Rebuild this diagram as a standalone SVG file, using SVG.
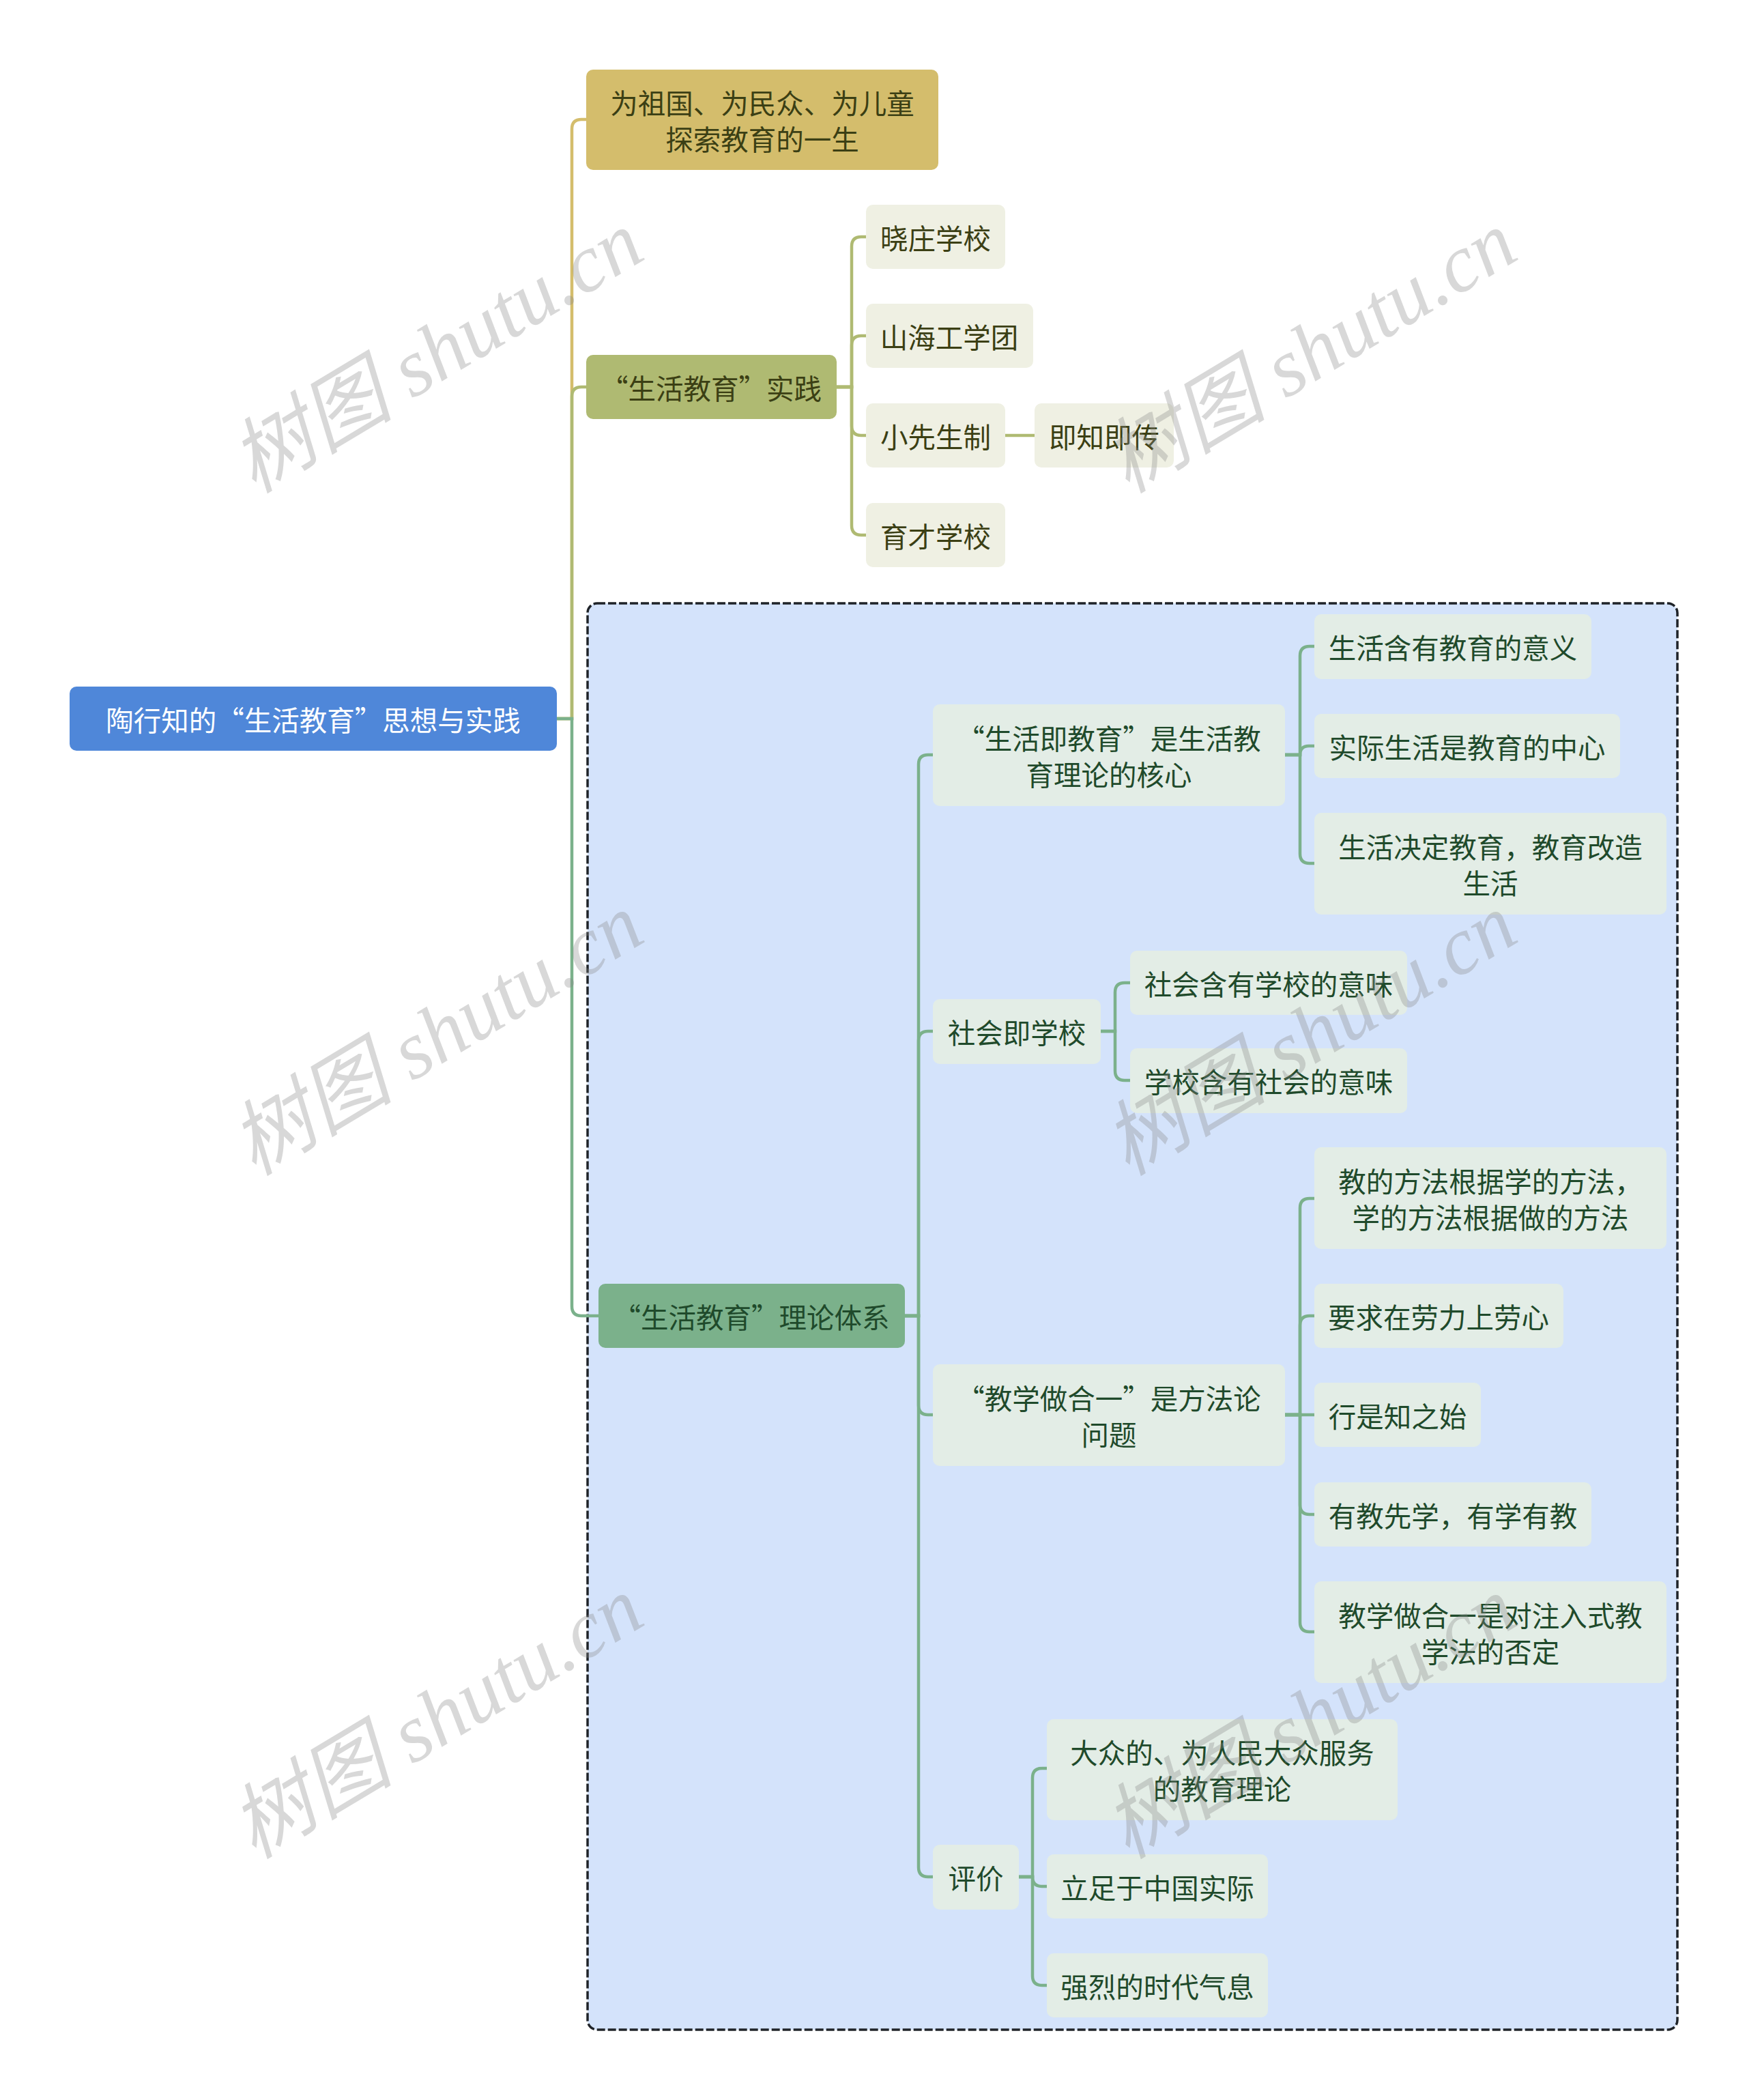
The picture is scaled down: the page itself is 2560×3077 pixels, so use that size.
<svg xmlns="http://www.w3.org/2000/svg" width="2560" height="3077" viewBox="0 0 2560 3077">
<style>
text{font-family:"Noto Sans CJK SC","Noto Sans",sans-serif;font-size:40.5px;text-anchor:middle;dominant-baseline:central}
.root rect{fill:#4f87d9}
.root text{fill:#ffffff}
.gold rect{fill:#d4bd6c}
.olive rect{fill:#afba72}
.ol2 rect{fill:#eff0e3}
.t1 text{fill:#3b3f14}
.green rect{fill:#7bb18b}
.gr2 rect{fill:#e3ede6}
.t2 text{fill:#1f4a2b}
.c{fill:none;stroke-width:4.5}
.cg{stroke:#d4bd6c}
.co{stroke:#afba72}
.cn{stroke:#7bb18b}
.wm{font-family:"Liberation Serif","Noto Sans CJK SC",serif;font-style:italic;font-size:120px;fill:#8a8a8a;fill-opacity:0.33;text-anchor:middle;dominant-baseline:central}
</style>
<rect x="0" y="0" width="2560" height="3077" fill="#ffffff"/>
<g id="container">
<rect x="861" y="884" width="1597" height="2090" rx="14" fill="#d4e3fb" stroke="#1f2328" stroke-width="3.5" stroke-dasharray="12 4"/>
</g>
<g id="connectors">
<path class="c cg" d="M816 1053 H838 V189 Q838 175 852 175 H859"/>
<path class="c co" d="M816 1053 H838 V581 Q838 567 852 567 H859"/>
<path class="c cn" d="M816 1053 H838 V1914 Q838 1928 852 1928 H877"/>
<path class="c co" d="M1226 567 H1248 V361 Q1248 347 1262 347 H1269"/>
<path class="c co" d="M1226 567 H1248 V506 Q1248 492 1262 492 H1269"/>
<path class="c co" d="M1226 567 H1248 V624 Q1248 638 1262 638 H1269"/>
<path class="c co" d="M1226 567 H1248 V770 Q1248 784 1262 784 H1269"/>
<path class="c co" d="M1473 638 H1516"/>
<path class="c cn" d="M1326 1928 H1346 V1120 Q1346 1106 1360 1106 H1367"/>
<path class="c cn" d="M1326 1928 H1346 V1525 Q1346 1511 1360 1511 H1367"/>
<path class="c cn" d="M1326 1928 H1346 V2059 Q1346 2073 1360 2073 H1367"/>
<path class="c cn" d="M1326 1928 H1346 V2736 Q1346 2750 1360 2750 H1367"/>
<path class="c cn" d="M1883 1106 H1905 V961 Q1905 947 1919 947 H1926"/>
<path class="c cn" d="M1883 1106 H1905 V1106 Q1905 1093 1918 1093 H1926"/>
<path class="c cn" d="M1883 1106 H1905 V1251 Q1905 1265 1919 1265 H1926"/>
<path class="c cn" d="M1613 1511 H1634 V1454 Q1634 1440 1648 1440 H1656"/>
<path class="c cn" d="M1613 1511 H1634 V1569 Q1634 1583 1648 1583 H1656"/>
<path class="c cn" d="M1883 2073 H1905 V1770 Q1905 1756 1919 1756 H1926"/>
<path class="c cn" d="M1883 2073 H1905 V1942 Q1905 1928 1919 1928 H1926"/>
<path class="c cn" d="M1883 2073 H1926"/>
<path class="c cn" d="M1883 2073 H1905 V2205 Q1905 2219 1919 2219 H1926"/>
<path class="c cn" d="M1883 2073 H1905 V2377 Q1905 2391 1919 2391 H1926"/>
<path class="c cn" d="M1493 2750 H1513 V2605 Q1513 2591 1527 2591 H1534"/>
<path class="c cn" d="M1493 2750 H1513 V2750 Q1513 2764 1527 2764 H1534"/>
<path class="c cn" d="M1493 2750 H1513 V2895 Q1513 2909 1527 2909 H1534"/>
</g>
<g id="n-root" class="root"><rect x="102" y="1006" width="714" height="94" rx="10"/><text x="459" y="1053">陶行知的“生活教育”思想与实践</text></g>
<g id="n-life" class="gold t1"><rect x="859" y="102" width="516" height="147" rx="10"/><text x="1117" y="149">为祖国、为民众、为儿童</text><text x="1117" y="202">探索教育的一生</text></g>
<g id="n-practice" class="olive t1"><rect x="859" y="520" width="367" height="94" rx="10"/><text x="1042" y="567">“生活教育”实践</text></g>
<g id="n-xz" class="ol2 t1"><rect x="1269" y="300" width="204" height="94" rx="10"/><text x="1371" y="347">晓庄学校</text></g>
<g id="n-sh" class="ol2 t1"><rect x="1269" y="445" width="245" height="94" rx="10"/><text x="1391" y="492">山海工学团</text></g>
<g id="n-xxs" class="ol2 t1"><rect x="1269" y="591" width="204" height="94" rx="10"/><text x="1371" y="638">小先生制</text></g>
<g id="n-jz" class="ol2 t1"><rect x="1516" y="591" width="204" height="94" rx="10"/><text x="1618" y="638">即知即传</text></g>
<g id="n-yc" class="ol2 t1"><rect x="1269" y="737" width="204" height="94" rx="10"/><text x="1371" y="784">育才学校</text></g>
<g id="n-theory" class="green t2"><rect x="877" y="1881" width="449" height="94" rx="10"/><text x="1101" y="1928">“生活教育”理论体系</text></g>
<g id="n-sjjy" class="gr2 t2"><rect x="1367" y="1032" width="516" height="149" rx="10"/><text x="1625" y="1080">“生活即教育”是生活教</text><text x="1625" y="1133">育理论的核心</text></g>
<g id="n-a1" class="gr2 t2"><rect x="1926" y="900" width="406" height="95" rx="10"/><text x="2129" y="947">生活含有教育的意义</text></g>
<g id="n-a2" class="gr2 t2"><rect x="1926" y="1046" width="448" height="94" rx="10"/><text x="2150" y="1093">实际生活是教育的中心</text></g>
<g id="n-a3" class="gr2 t2"><rect x="1926" y="1191" width="516" height="149" rx="10"/><text x="2184" y="1239">生活决定教育，教育改造</text><text x="2184" y="1292">生活</text></g>
<g id="n-shjxx" class="gr2 t2"><rect x="1367" y="1464" width="246" height="95" rx="10"/><text x="1490" y="1511">社会即学校</text></g>
<g id="n-b1" class="gr2 t2"><rect x="1656" y="1393" width="406" height="94" rx="10"/><text x="1859" y="1440">社会含有学校的意味</text></g>
<g id="n-b2" class="gr2 t2"><rect x="1656" y="1536" width="406" height="95" rx="10"/><text x="1859" y="1583">学校含有社会的意味</text></g>
<g id="n-jxz" class="gr2 t2"><rect x="1367" y="1999" width="516" height="149" rx="10"/><text x="1625" y="2047">“教学做合一”是方法论</text><text x="1625" y="2100">问题</text></g>
<g id="n-c1" class="gr2 t2"><rect x="1926" y="1681" width="516" height="149" rx="10"/><text x="2184" y="1729">教的方法根据学的方法，</text><text x="2184" y="1782">学的方法根据做的方法</text></g>
<g id="n-c2" class="gr2 t2"><rect x="1926" y="1881" width="365" height="94" rx="10"/><text x="2108" y="1928">要求在劳力上劳心</text></g>
<g id="n-c3" class="gr2 t2"><rect x="1926" y="2026" width="244" height="94" rx="10"/><text x="2048" y="2073">行是知之始</text></g>
<g id="n-c4" class="gr2 t2"><rect x="1926" y="2172" width="406" height="94" rx="10"/><text x="2129" y="2219">有教先学，有学有教</text></g>
<g id="n-c5" class="gr2 t2"><rect x="1926" y="2317" width="516" height="149" rx="10"/><text x="2184" y="2365">教学做合一是对注入式教</text><text x="2184" y="2418">学法的否定</text></g>
<g id="n-eval" class="gr2 t2"><rect x="1367" y="2703" width="126" height="95" rx="10"/><text x="1430" y="2750">评价</text></g>
<g id="n-d1" class="gr2 t2"><rect x="1534" y="2519" width="514" height="148" rx="10"/><text x="1791" y="2566">大众的、为人民大众服务</text><text x="1791" y="2619">的教育理论</text></g>
<g id="n-d2" class="gr2 t2"><rect x="1534" y="2717" width="324" height="94" rx="10"/><text x="1696" y="2764">立足于中国实际</text></g>
<g id="n-d3" class="gr2 t2"><rect x="1534" y="2862" width="324" height="94" rx="10"/><text x="1696" y="2909">强烈的时代气息</text></g>
<g id="watermark">
<text class="wm" transform="translate(640 516) rotate(-31)">树图 shutu.cn</text>
<text class="wm" transform="translate(1920 516) rotate(-31)">树图 shutu.cn</text>
<text class="wm" transform="translate(640 1516) rotate(-31)">树图 shutu.cn</text>
<text class="wm" transform="translate(1920 1516) rotate(-31)">树图 shutu.cn</text>
<text class="wm" transform="translate(640 2517) rotate(-31)">树图 shutu.cn</text>
<text class="wm" transform="translate(1920 2517) rotate(-31)">树图 shutu.cn</text>
</g>
</svg>
